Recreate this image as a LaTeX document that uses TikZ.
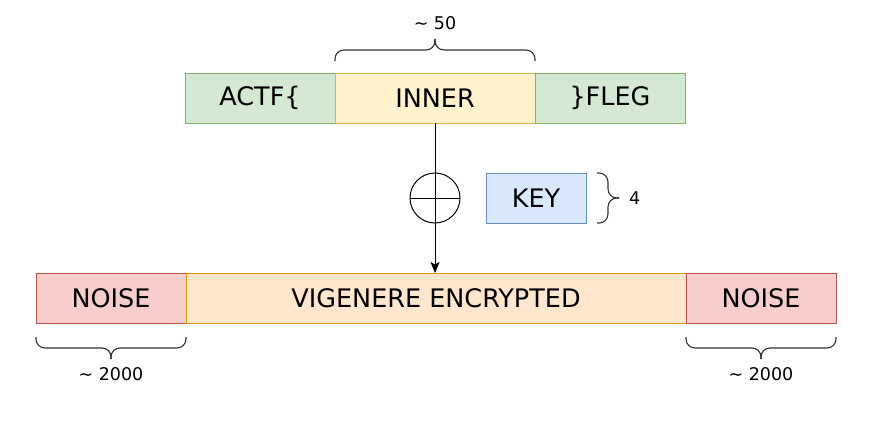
\documentclass[tikz,border=0pt]{standalone}
\usepackage{fontspec}
\setmainfont{DejaVu Sans}
\usetikzlibrary{arrows.meta}

\definecolor{greenfill}{HTML}{D5E8D4}
\definecolor{greenline}{HTML}{82B366}
\definecolor{yellowfill}{HTML}{FFF2CC}
\definecolor{yellowline}{HTML}{D6B656}
\definecolor{bluefill}{HTML}{DAE8FC}
\definecolor{blueline}{HTML}{6C8EBF}
\definecolor{redfill}{HTML}{F8CECC}
\definecolor{redline}{HTML}{B85450}
\definecolor{orangefill}{HTML}{FFE6CC}
\definecolor{orangeline}{HTML}{D79B00}

\tikzset{
	field/.style={draw,line width=1pt,minimum width=150pt,minimum height=50pt,inner sep=0pt,outer sep=0pt,font=\fontsize{25.5}{30}\selectfont},
	brc/.style={draw=black!80,line width=1.1pt,rounded corners=9pt},
	lbl/.style={inner sep=0pt,font=\fontsize{17.5}{21}\selectfont}
}

\begin{document}
\begin{tikzpicture}[x=1pt,y=-1pt]
\useasboundingbox (0,0) rectangle (882,428);
% flag parts
\node[field,fill=greenfill,draw=greenline] (actf) at (260,98) {ACTF\{};
\node[field,fill=yellowfill,draw=yellowline,minimum width=200pt,anchor=west] (inner) at (actf.east) {INNER};
\node[field,fill=greenfill,draw=greenline,anchor=west] (fleg) at (inner.east) {\}FLEG};
% output
\node[field,fill=redfill,draw=redline] (noiseL) at (111,298) {NOISE};
\node[field,fill=orangefill,draw=orangeline,minimum width=500pt,anchor=west] (vig) at (noiseL.east) {VIGENERE ENCRYPTED};
\node[field,fill=redfill,draw=redline,anchor=west] (noiseR) at (vig.east) {NOISE};
% key and xor
\node[field,fill=bluefill,draw=blueline,minimum width=100pt] (key) at (536,198) {KEY};
\node[circle,draw,line width=1pt,minimum size=50pt,inner sep=0pt,outer sep=0pt] (xor) at (435,198) {};
\draw[line width=1pt] (xor.west) -- (xor.east);
\draw[line width=1pt,-{Stealth[length=11pt,width=9pt,inset=2.5pt]}] (inner.south) -- (inner.south |- vig.north);
% braces
\coordinate (tipInner) at ([yshift=34pt]inner.north);
\draw[brc] ([yshift=12pt]inner.north west) -- ++(0,-11) -| (tipInner);
\draw[brc] ([yshift=12pt]inner.north east) -- ++(0,-11) -| (tipInner);
\node[lbl,above=9pt] (lenInner) at (tipInner) {\textasciitilde{} 50};
\coordinate (tipKey) at ([xshift=33pt]key.east);
\draw[brc] ([xshift=11pt]key.north east) -- ++(11,0) |- (tipKey);
\draw[brc] ([xshift=11pt]key.south east) -- ++(11,0) |- (tipKey);
\node[lbl,right=10pt] (lenKey) at (tipKey) {4};
\coordinate (tipNoiseL) at ([yshift=-36pt]noiseL.south);
\draw[brc] ([yshift=-14pt]noiseL.south west) -- ++(0,11) -| (tipNoiseL);
\draw[brc] ([yshift=-14pt]noiseL.south east) -- ++(0,11) -| (tipNoiseL);
\node[lbl,below=8pt] (lenNoiseL) at (tipNoiseL) {\textasciitilde{} 2000};
\coordinate (tipNoiseR) at ([yshift=-36pt]noiseR.south);
\draw[brc] ([yshift=-14pt]noiseR.south west) -- ++(0,11) -| (tipNoiseR);
\draw[brc] ([yshift=-14pt]noiseR.south east) -- ++(0,11) -| (tipNoiseR);
\node[lbl,below=8pt] (lenNoiseR) at (tipNoiseR) {\textasciitilde{} 2000};
\end{tikzpicture}
\end{document}
